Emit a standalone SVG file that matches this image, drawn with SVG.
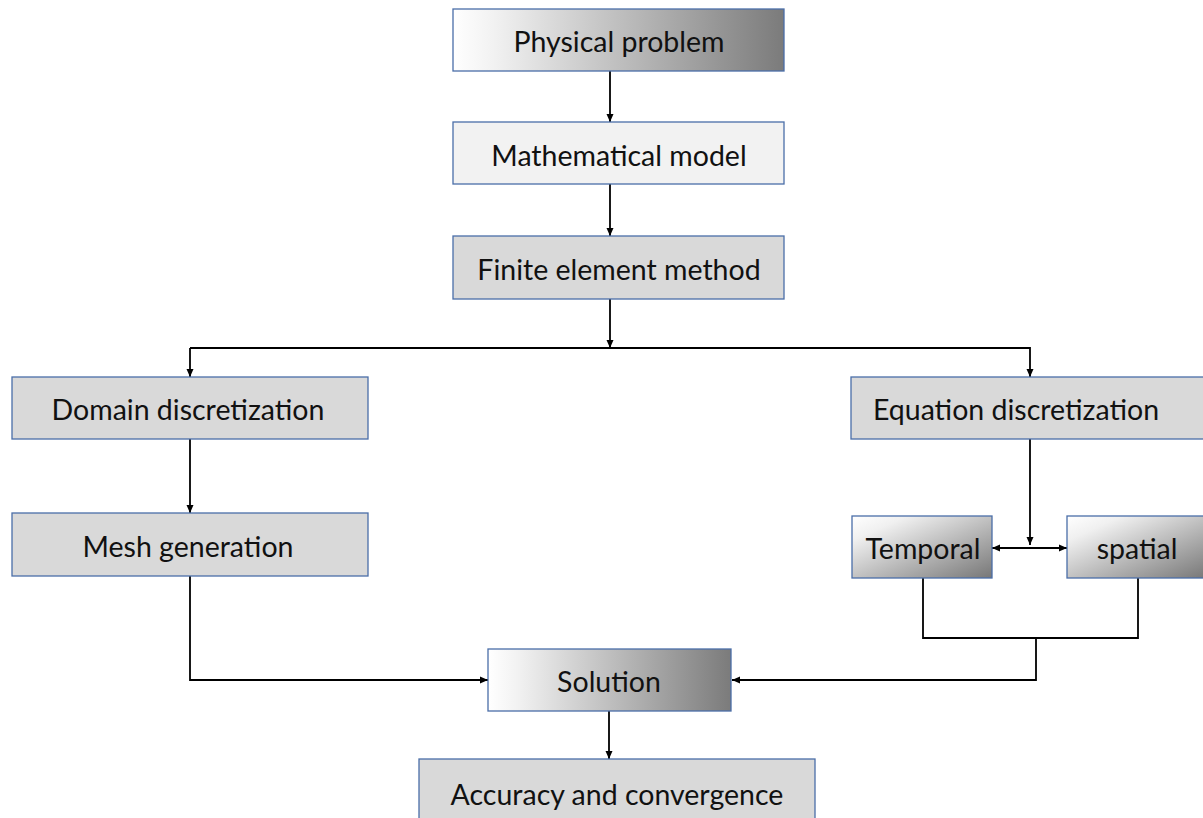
<svg xmlns="http://www.w3.org/2000/svg" width="1203" height="818" viewBox="0 0 1203 818">
<style>
.box{stroke:#4a6ea8;stroke-width:1.3}
.g1{fill:#d9d9d9}
.g2{fill:#f2f2f2}
.gr{fill:url(#grad)}
.t{font-family:Lato,"Liberation Sans",sans-serif;font-size:28.5px;fill:#111;text-anchor:middle}
.c{fill:none;stroke:#000;stroke-width:1.8}
</style>
<defs>
<linearGradient id="grad" x1="0" y1="0" x2="1" y2="0">
<stop offset="0" stop-color="#ffffff"/>
<stop offset="0.12" stop-color="#f2f2f2"/>
<stop offset="1" stop-color="#7b7b7b"/>
</linearGradient>
<linearGradient id="gradd" x1="0" y1="0" x2="1" y2="1">
<stop offset="0" stop-color="#ffffff"/>
<stop offset="0.2" stop-color="#f0f0f0"/>
<stop offset="1" stop-color="#777777"/>
</linearGradient>
<marker id="ah" markerWidth="8" markerHeight="8" refX="8" refY="4" orient="auto" markerUnits="userSpaceOnUse">
<path d="M0,0.5 L8,4 L0,7.5 Z" fill="#000"/>
</marker>
<marker id="as" markerWidth="8" markerHeight="8" refX="0" refY="4" orient="auto" markerUnits="userSpaceOnUse">
<path d="M8,0.5 L0,4 L8,7.5 Z" fill="#000"/>
</marker>
</defs>
<g id="connectors">
<line class="c" x1="610" y1="71" x2="610" y2="122" marker-end="url(#ah)"/>
<line class="c" x1="610" y1="184" x2="610" y2="236" marker-end="url(#ah)"/>
<line class="c" x1="610" y1="299" x2="610" y2="348" marker-end="url(#ah)"/>
<polyline class="c" points="190,348 1030,348 1030,377" marker-end="url(#ah)"/>
<line class="c" x1="190" y1="348" x2="190" y2="377" marker-end="url(#ah)"/>
<line class="c" x1="190" y1="439" x2="190" y2="513" marker-end="url(#ah)"/>
<line class="c" x1="1030" y1="439" x2="1030" y2="545" marker-end="url(#ah)"/>
<line class="c" x1="992" y1="548" x2="1067" y2="548" marker-start="url(#as)" marker-end="url(#ah)"/>
<polyline class="c" points="923,578 923,638 1138,638 1138,578"/>
<polyline class="c" points="1036,638 1036,680 732,680" marker-end="url(#ah)"/>
<polyline class="c" points="190,576 190,680 488,680" marker-end="url(#ah)"/>
<line class="c" x1="609" y1="711" x2="609" y2="759" marker-end="url(#ah)"/>
</g>
<g id="physical"><rect class="box gr" x="453" y="9" width="331" height="62"/><text class="t" x="619" y="52">Physical problem</text></g>
<g id="math"><rect class="box g2" x="453" y="122" width="331" height="62"/><text class="t" x="619" y="166">Mathematical model</text></g>
<g id="fem"><rect class="box g1" x="453" y="236" width="331" height="63"/><text class="t" x="619" y="280">Finite element method</text></g>
<g id="domain"><rect class="box g1" x="12" y="377" width="356" height="62"/><text class="t" x="188" y="420">Domain discretization</text></g>
<g id="equation"><rect class="box g1" x="851" y="377" width="356" height="62"/><text class="t" x="1016" y="420">Equation discretization</text></g>
<g id="mesh"><rect class="box g1" x="12" y="513" width="356" height="63"/><text class="t" x="188" y="557">Mesh generation</text></g>
<g id="temporal"><rect class="box" fill="url(#gradd)" x="852" y="516" width="140" height="62"/><text class="t" x="923" y="559">Temporal</text></g>
<g id="spatial"><rect class="box" fill="url(#gradd)" x="1067" y="516" width="140" height="62"/><text class="t" x="1137" y="559">spatial</text></g>
<g id="solution"><rect class="box gr" x="488" y="649" width="243" height="62"/><text class="t" x="609" y="692">Solution</text></g>
<g id="accuracy"><rect class="box g1" x="419" y="759" width="396" height="70"/><text class="t" x="617" y="805">Accuracy and convergence</text></g>
</svg>
